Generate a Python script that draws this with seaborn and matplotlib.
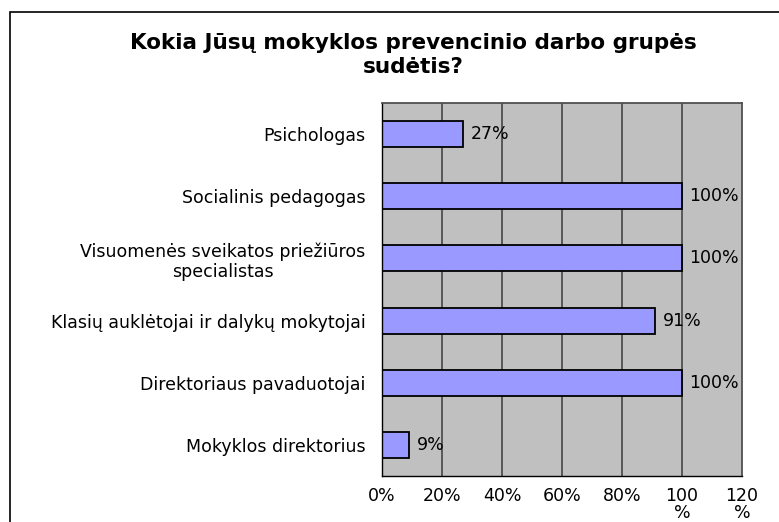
import pandas as pd
import seaborn as sns
import matplotlib.pyplot as plt
from matplotlib.patches import Rectangle

# Chart data
categories = [
    "Psichologas",
    "Socialinis pedagogas",
    "Visuomenės sveikatos priežiūros\nspecialistas",
    "Klasių auklėtojai ir dalykų mokytojai",
    "Direktoriaus pavaduotojai",
    "Mokyklos direktorius",
]
values = [0.27, 1.00, 1.00, 0.91, 1.00, 0.09]
value_labels = ["27%", "100%", "100%", "91%", "100%", "9%"]
x_ticks = [0, 0.2, 0.4, 0.6, 0.8, 1.0, 1.2]
x_tick_labels = ["0%", "20%", "40%", "60%", "80%", "100\n%", "120\n%"]
title = "Kokia Jūsų mokyklos prevencinio darbo grupės\nsudėtis?"

data = pd.DataFrame({"category": categories, "value": values})

sns.set_style("white")
plt.rcParams["font.family"] = ["DejaVu Sans"]
plt.rcParams["text.color"] = "black"
plt.rcParams["xtick.color"] = "black"
plt.rcParams["ytick.color"] = "black"

fig = plt.figure(figsize=(7.79, 5.22), dpi=100)
ax = fig.add_axes([382 / 779, 1 - 476 / 522, 360 / 779, 373 / 522])

sns.barplot(data=data, x="value", y="category", orient="h", color="#9999FF",
            saturation=1, width=0.42, edgecolor="black", linewidth=1.3, ax=ax)

ax.set_facecolor("#C0C0C0")
ax.set_xlim(0, 1.2)
ax.set_ylim(len(categories) - 0.5, -0.5)
ax.set_xticks(x_ticks)
ax.set_xticklabels(x_tick_labels, fontsize=12.5, linespacing=0.9)
ax.set_xlabel("")
ax.set_ylabel("")

# vertical gridlines
for t in x_ticks[1:-1]:
    ax.axvline(t, color="#505050", linewidth=1.3, zorder=0.5)

# category ticks between bands
ax.set_yticks(range(len(categories)))
ax.set_yticklabels(categories, fontsize=12.5)
ax.set_yticks([i - 0.5 for i in range(len(categories) + 1)], minor=True)
ax.tick_params(axis="y", which="major", length=0, pad=12)
ax.tick_params(axis="y", which="minor", length=5, width=1, color="black", direction="out")
ax.tick_params(axis="x", length=5, width=1, color="black", direction="out", pad=3)
for lbl in ax.get_yticklabels():
    lbl.set_multialignment("center")

for side in ["left", "bottom"]:
    ax.spines[side].set_color("black")
    ax.spines[side].set_linewidth(1)
for side in ["top", "right"]:
    ax.spines[side].set_color("#505050")
    ax.spines[side].set_linewidth(1.3)

for i, (v, lab) in enumerate(zip(values, value_labels)):
    ax.text(v + 0.025, i, lab, va="center", ha="left", fontsize=12.5)

fig.text(413 / 779, 1 - 55 / 522, title, ha="center", va="center",
         fontsize=15.5, fontweight="bold", linespacing=1.2)

# outer chart border
fig.patches.append(Rectangle((10 / 779, -0.1), 1.2, 1 - 12 / 522 + 0.1,
                             transform=fig.transFigure, fill=False,
                             edgecolor="black", linewidth=1.2))

fig.savefig("out.png", dpi=100)
